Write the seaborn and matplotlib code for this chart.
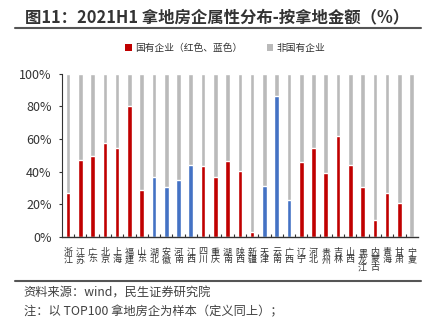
import matplotlib
matplotlib.use("Agg")
import matplotlib.pyplot as plt
import seaborn as sns
import pandas as pd
import numpy as np
from matplotlib.patches import Patch
from matplotlib.lines import Line2D

provinces = ["浙江", "江苏", "广东", "北京", "上海", "福建", "山东", "湖北", "安徽", "河南",
             "江西", "四川", "重庆", "湖南", "陕西", "新疆", "天津", "云南", "广西", "辽宁",
             "河北", "贵州", "吉林", "山西", "黑龙江", "内蒙古", "青海", "甘肃", "宁夏"]
soe_share = [26.6, 47.0, 49.5, 57.5, 54.6, 80.2, 28.8, 36.6, 30.5, 34.8,
             44.0, 43.2, 36.6, 46.4, 40.3, 2.9, 31.1, 86.3, 22.5, 45.6,
             54.2, 38.9, 61.8, 43.8, 30.5, 10.0, 26.8, 20.9, 0.0]
color_group = ["红", "红", "红", "红", "红", "红", "红", "蓝", "蓝", "蓝",
               "蓝", "红", "红", "红", "红", "红", "蓝", "蓝", "蓝", "红",
               "红", "红", "红", "红", "红", "红", "红", "红", "红"]
total = [100.0] * len(provinces)

RED = "#C00000"
BLUE = "#4472C4"
GRAY = "#BABABA"

sns.set_theme(style="white")
plt.rcParams["font.family"] = ["Noto Sans CJK SC", "DejaVu Sans"]

fig = plt.figure(figsize=(4.33, 3.31), dpi=100)
ax = fig.add_axes([0.143, 0.285, 0.822, 0.492])

df = pd.DataFrame({"省份": provinces, "国有": soe_share, "组": color_group, "总": total})
df["红"] = np.where(df["组"] == "红", df["国有"], np.nan)
df["蓝"] = np.where(df["组"] == "蓝", df["国有"], np.nan)

W = 0.38
sns.barplot(data=df, x="省份", y="总", color=GRAY, width=W, ax=ax,
            saturation=1, order=provinces)
sns.barplot(data=df, x="省份", y="红", color=RED, width=W, ax=ax,
            saturation=1, order=provinces)
sns.barplot(data=df, x="省份", y="蓝", color=BLUE, width=W, ax=ax,
            saturation=1, order=provinces)

ax.set_xlim(-0.5, len(provinces) - 0.5)
ax.set_ylim(0, 100)
ax.set_yticks([0, 20, 40, 60, 80, 100])
ax.set_yticklabels([f"{v}%" for v in [0, 20, 40, 60, 80, 100]], fontsize=9, color="#333333")
ax.set_xlabel("")
ax.set_ylabel("")
ax.set_xticks(range(len(provinces)))
ax.set_xticklabels(["\n".join(p) for p in provinces], rotation=0, fontsize=6.5,
                   linespacing=0.8, va="top", ha="center", color="#333333")
ax.tick_params(axis="x", which="major", pad=8, length=0)
ax.set_xticks([i + 0.5 for i in range(len(provinces) - 1)], minor=True)
ax.tick_params(axis="x", which="minor", direction="in", length=2.5, width=0.8, color="#333333", bottom=True)
ax.tick_params(axis="y", direction="out", length=2.5, width=0.8, color="#333333", left=True, pad=5)

for s in ["top", "right"]:
    ax.spines[s].set_visible(False)
ax.spines["left"].set_color("#333333")
ax.spines["left"].set_linewidth(0.8)
ax.spines["bottom"].set_color("#333333")
ax.spines["bottom"].set_linewidth(1.0)

# Title and rule
fig.text(0.058, 0.948, "图11：2021H1 拿地房企属性分布-按拿地金额（%）", fontsize=11.8,
         fontweight="bold", color="#333333", va="center", ha="left")
fig.add_artist(Line2D([0.035, 0.973], [0.915, 0.915], color="#555555", lw=1.5))

# Legend
handles = [Patch(facecolor=RED, edgecolor="none"), Patch(facecolor=GRAY, edgecolor="none")]
fig.legend(handles, ["国有企业（红色、蓝色）", "非国有企业"], loc="center",
           bbox_to_anchor=(0.52, 0.856), ncol=2, frameon=False, fontsize=7,
           handlelength=0.7, handleheight=0.7, handletextpad=0.3, columnspacing=2.5,
           labelcolor="#333333")

# Bottom rule and notes
fig.add_artist(Line2D([0.035, 0.973], [0.151, 0.151], color="#555555", lw=1.5))
fig.text(0.055, 0.114, "资料来源：wind，民生证券研究院", fontsize=8.8, color="#404040",
         va="center", ha="left")
fig.text(0.055, 0.058, "注：以 TOP100 拿地房企为样本（定义同上）；", fontsize=8.8, color="#404040",
         va="center", ha="left")

fig.savefig("out.png", dpi=100)
